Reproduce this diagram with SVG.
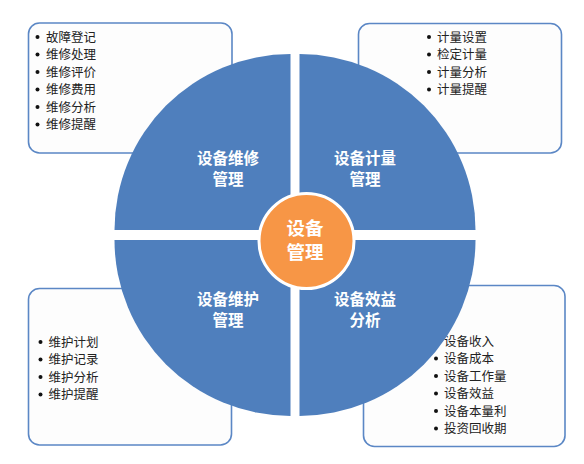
<svg xmlns="http://www.w3.org/2000/svg" width="584" height="464" viewBox="0 0 584 464">
<style>
.box{fill:#fdfdfd;stroke:#5b87c5;stroke-width:1.6}
.q{fill:#4f7fbd}
.ql{font-family:"Noto Sans CJK SC","Noto Sans",sans-serif;font-size:15.5px;font-weight:bold;fill:#fff;text-anchor:middle}
.cl{font-family:"Noto Sans CJK SC","Noto Sans",sans-serif;font-size:18.5px;font-weight:bold;fill:#fff;text-anchor:middle}
.it{font-family:"Noto Sans CJK SC","Noto Sans",sans-serif;font-size:12.5px;fill:#222}
.b{fill:#111}
</style>
<rect width="584" height="464" fill="#fff"/>
<g id="box-repair">
<rect class="box" x="28.5" y="23" width="203.5" height="130" rx="11"/>
<circle class="b" cx="37.5" cy="37" r="2"/><text class="it" x="46" y="41.5">故障登记</text>
<circle class="b" cx="37.5" cy="54.5" r="2"/><text class="it" x="46" y="59">维修处理</text>
<circle class="b" cx="37.5" cy="72" r="2"/><text class="it" x="46" y="76.5">维修评价</text>
<circle class="b" cx="37.5" cy="89.5" r="2"/><text class="it" x="46" y="94">维修费用</text>
<circle class="b" cx="37.5" cy="107" r="2"/><text class="it" x="46" y="111.5">维修分析</text>
<circle class="b" cx="37.5" cy="124.5" r="2"/><text class="it" x="46" y="129">维修提醒</text>
</g>
<g id="box-measure">
<rect class="box" x="358.5" y="23.5" width="203" height="129.5" rx="11"/>
<circle class="b" cx="429" cy="37" r="2"/><text class="it" x="437" y="41.5">计量设置</text>
<circle class="b" cx="429" cy="54.5" r="2"/><text class="it" x="437" y="59">检定计量</text>
<circle class="b" cx="429" cy="72" r="2"/><text class="it" x="437" y="76.5">计量分析</text>
<circle class="b" cx="429" cy="89.5" r="2"/><text class="it" x="437" y="94">计量提醒</text>
</g>
<g id="box-maint">
<rect class="box" x="28.5" y="288.5" width="203" height="156.5" rx="11"/>
<circle class="b" cx="40.5" cy="342" r="2"/><text class="it" x="48.5" y="346.5">维护计划</text>
<circle class="b" cx="40.5" cy="359.5" r="2"/><text class="it" x="48.5" y="364">维护记录</text>
<circle class="b" cx="40.5" cy="377" r="2"/><text class="it" x="48.5" y="381.5">维护分析</text>
<circle class="b" cx="40.5" cy="394.5" r="2"/><text class="it" x="48.5" y="399">维护提醒</text>
</g>
<g id="box-benefit">
<rect class="box" x="363.5" y="285.5" width="201.5" height="161" rx="11"/>
<circle class="b" cx="436" cy="341" r="2"/><text class="it" x="444" y="345.5">设备收入</text>
<circle class="b" cx="436" cy="358.5" r="2"/><text class="it" x="444" y="363">设备成本</text>
<circle class="b" cx="436" cy="376" r="2"/><text class="it" x="444" y="380.5">设备工作量</text>
<circle class="b" cx="436" cy="393.5" r="2"/><text class="it" x="444" y="398">设备效益</text>
<circle class="b" cx="436" cy="411" r="2"/><text class="it" x="444" y="415.5">设备本量利</text>
<circle class="b" cx="436" cy="428.5" r="2"/><text class="it" x="444" y="433">投资回收期</text>
</g>
<g id="connectors"></g>
<g id="q-repair">
<path class="q" d="M290.5,230 L114.5,230 A176,176 0 0 1 290.5,54 Z"/>
<text class="ql" x="228" y="164">设备维修</text>
<text class="ql" x="228" y="185">管理</text>
</g>
<g id="q-measure">
<path class="q" d="M299.5,230 L299.5,54 A176,176 0 0 1 475.5,230 Z"/>
<text class="ql" x="365" y="164">设备计量</text>
<text class="ql" x="365" y="185">管理</text>
</g>
<g id="q-maint">
<path class="q" d="M290.5,240 L290.5,416 A176,176 0 0 1 114.5,240 Z"/>
<text class="ql" x="228" y="305">设备维护</text>
<text class="ql" x="228" y="326">管理</text>
</g>
<g id="q-benefit">
<path class="q" d="M299.5,240 L475.5,240 A176,176 0 0 1 299.5,416 Z"/>
<text class="ql" x="365" y="305">设备效益</text>
<text class="ql" x="365" y="326">分析</text>
</g>
<g id="center">
<circle cx="306.5" cy="241" r="47.5" fill="#f79646" stroke="#fff" stroke-width="3"/>
<text class="cl" x="305" y="235">设备</text>
<text class="cl" x="305" y="259">管理</text>
</g>
</svg>
